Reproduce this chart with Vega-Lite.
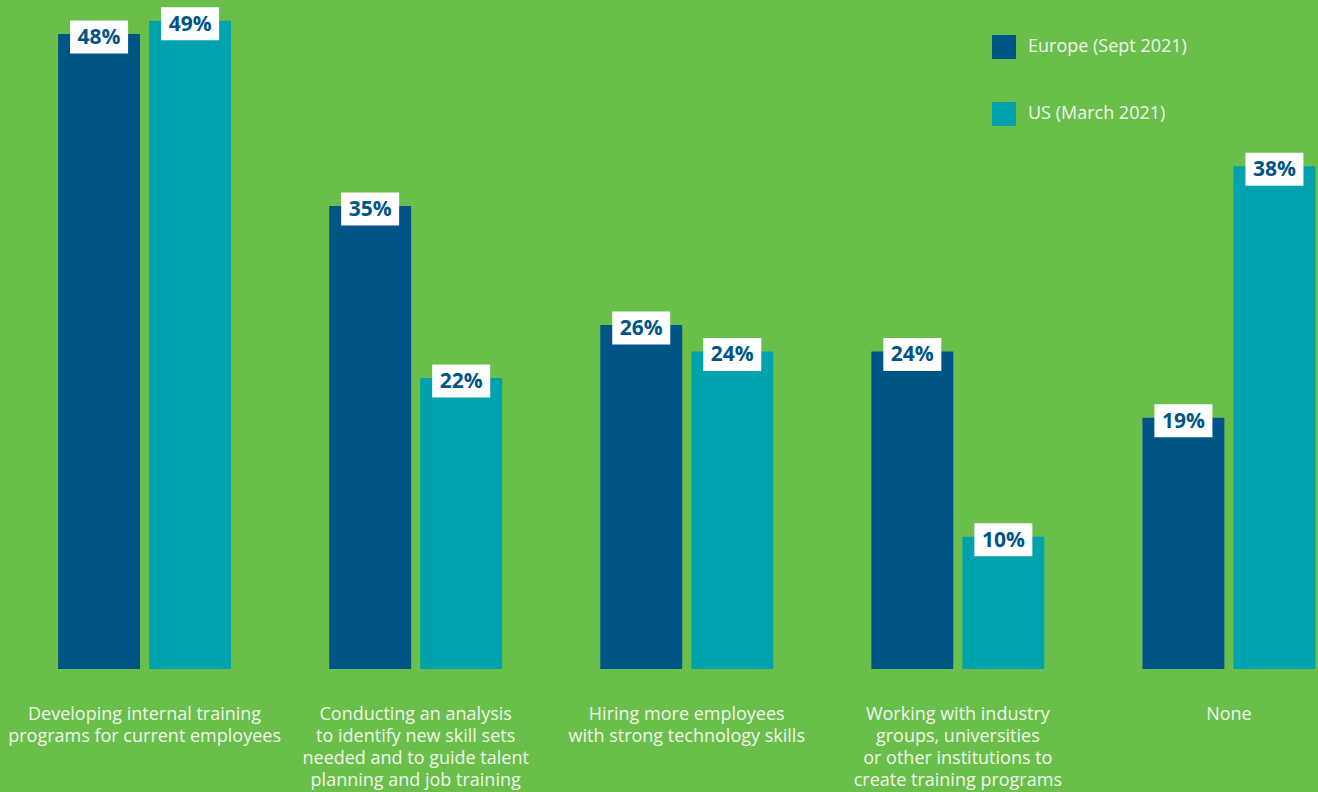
{
  "$schema": "https://vega.github.io/schema/vega-lite/v6.json",
  "width": 1318,
  "height": 669,
  "padding": {"left": 0, "top": 0, "right": 0, "bottom": 30},
  "background": "#6abf4b",
  "config": {"view": {"stroke": null}, "font": "Open Sans"},
  "data": {
    "values": [
      {"category": "Developing internal training|programs for current employees", "group": "Europe (Sept 2021)", "value": 0.48},
      {"category": "Developing internal training|programs for current employees", "group": "US (March 2021)", "value": 0.49},
      {"category": "Conducting an analysis|to identify new skill sets|needed and to guide talent|planning and job training", "group": "Europe (Sept 2021)", "value": 0.35},
      {"category": "Conducting an analysis|to identify new skill sets|needed and to guide talent|planning and job training", "group": "US (March 2021)", "value": 0.22},
      {"category": "Hiring more employees|with strong technology skills", "group": "Europe (Sept 2021)", "value": 0.26},
      {"category": "Hiring more employees|with strong technology skills", "group": "US (March 2021)", "value": 0.24},
      {"category": "Working with industry|groups, universities|or other institutions to|create training programs", "group": "Europe (Sept 2021)", "value": 0.24},
      {"category": "Working with industry|groups, universities|or other institutions to|create training programs", "group": "US (March 2021)", "value": 0.10},
      {"category": "None", "group": "Europe (Sept 2021)", "value": 0.19},
      {"category": "None", "group": "US (March 2021)", "value": 0.38}
    ]
  },
  "encoding": {
    "x": {
      "field": "category",
      "type": "nominal",
      "sort": null,
      "scale": {"paddingInner": 0.362, "paddingOuter": 0.112, "align": 0.957},
      "axis": {
        "title": null,
        "domain": false,
        "ticks": false,
        "labelAngle": 0,
        "labelExpr": "split(datum.label, '|')",
        "labelFont": "Open Sans",
        "labelFontSize": 18,
        "labelColor": "#f1f6ec",
        "labelLineHeight": 22,
        "labelBaseline": "top",
        "labelPadding": 36,
        "labelLimit": 0,
        "labelOverlap": false,
        "labelBound": false
      }
    },
    "xOffset": {"field": "group", "type": "nominal", "scale": {"paddingInner": 0.1}},
    "y": {
      "field": "value",
      "type": "quantitative",
      "scale": {"domain": [0, 0.5057], "nice": false, "zero": true},
      "axis": null
    }
  },
  "layer": [
    {
      "mark": {"type": "bar"},
      "encoding": {
        "color": {
          "field": "group",
          "type": "nominal",
          "scale": {"domain": ["Europe (Sept 2021)", "US (March 2021)"], "range": ["#005587", "#00a3ad"]},
          "legend": {
            "orient": "none",
            "legendX": 992,
            "legendY": 35,
            "title": null,
            "symbolType": "square",
            "symbolSize": 576,
            "symbolStrokeWidth": 0,
            "symbolOpacity": 1,
            "labelFont": "Open Sans",
            "labelFontSize": 18,
            "labelColor": "#f1f6ec",
            "labelOffset": 12,
            "rowPadding": 43
          }
        }
      }
    },
    {
      "mark": {
        "type": "point",
        "shape": "M-1,-0.569L1,-0.569L1,0.569L-1,0.569Z",
        "size": 3364,
        "filled": true,
        "fill": "#ffffff",
        "opacity": 1,
        "strokeWidth": 0,
        "yOffset": 3
      }
    },
    {
      "mark": {
        "type": "text",
        "font": "Open Sans",
        "fontSize": 21,
        "fontWeight": "bold",
        "color": "#005587",
        "baseline": "middle",
        "align": "center",
        "yOffset": 4
      },
      "encoding": {"text": {"field": "value", "type": "quantitative", "format": ".0%"}}
    }
  ]
}
